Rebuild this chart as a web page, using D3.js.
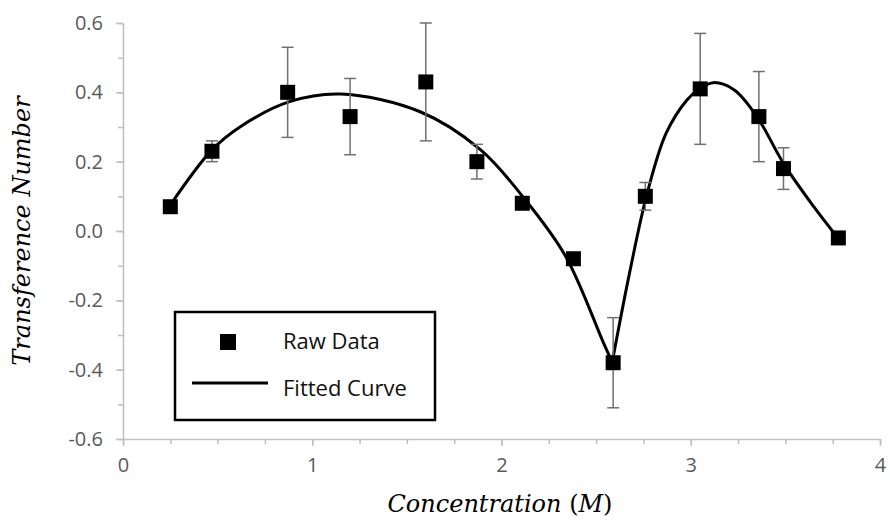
<!DOCTYPE html>
<html>
<head>
    <title>Transference Number</title>
    <script src="https://cdn.jsdelivr.net/npm/d3@7"></script>
    <style>
        body { margin: 0; background: #fff; }
    </style>
</head>
<body>
<script>
    // raw data
    var concX = [0.25, 0.47, 0.87, 1.20, 1.60, 1.87, 2.11, 2.38, 2.59, 2.76, 3.05, 3.36, 3.49, 3.78];
    var transY = [0.07, 0.23, 0.40, 0.33, 0.43, 0.20, 0.08, -0.08, -0.38, 0.10, 0.41, 0.33, 0.18, -0.02];
    var errY = [0, 0.03, 0.13, 0.11, 0.17, 0.05, 0, 0, 0.13, 0.04, 0.16, 0.13, 0.06, 0];

    // fitted curve, two pieces meeting at the cusp
    var fitLeftX = [0.25, 0.47, 0.62, 0.88, 1.15, 1.57, 1.89, 2.12, 2.34, 2.54, 2.585];
    var fitLeftY = [0.075, 0.234, 0.301, 0.373, 0.395, 0.344, 0.234, 0.094, -0.074, -0.324, -0.378];
    var fitRightX = [2.585, 2.68, 2.77, 2.87, 2.98, 3.05, 3.12, 3.23, 3.35, 3.49, 3.65, 3.77];
    var fitRightY = [-0.378, -0.112, 0.109, 0.282, 0.378, 0.412, 0.428, 0.407, 0.33, 0.195, 0.07, -0.015];

    var xTicks = [0, 1, 2, 3, 4];
    var xTickLabels = ["0", "1", "2", "3", "4"];
    var yTicks = [-0.6, -0.4, -0.2, 0.0, 0.2, 0.4, 0.6];
    var yTickLabels = ["-0.6", "-0.4", "-0.2", "0.0", "0.2", "0.4", "0.6"];
    var xMinor = d3.range(0, 4.001, 0.25);
    var yMinor = d3.range(-0.6, 0.601, 0.1);

    var width = 890;
    var height = 527;

    var svg = d3.select("body")
        .append("svg")
        .attr("width", width)
        .attr("height", height)
        .style("font-family", "'Open Sans', sans-serif");

    var x = d3.scaleLinear().domain([0, 4]).range([123, 880]);
    var y = d3.scaleLinear().domain([-0.6, 0.6]).range([439, 23]);

    // minor ticks first
    svg.append("g")
        .attr("transform", "translate(0," + y(-0.6) + ")")
        .call(d3.axisBottom(x).tickValues(xMinor).tickSize(5).tickFormat(""))
        .call(function(g) { g.select(".domain").remove(); })
        .selectAll("line").attr("stroke", "#bfbfbf").attr("stroke-width", 1.5);

    svg.append("g")
        .attr("transform", "translate(" + x(0) + ",0)")
        .call(d3.axisLeft(y).tickValues(yMinor).tickSize(5).tickFormat(""))
        .call(function(g) { g.select(".domain").remove(); })
        .selectAll("line").attr("stroke", "#bfbfbf").attr("stroke-width", 1.5);

    // major axes
    var xAxis = svg.append("g")
        .attr("transform", "translate(0," + y(-0.6) + ")")
        .call(d3.axisBottom(x).tickValues(xTicks).tickSize(7).tickSizeOuter(0).tickPadding(12)
            .tickFormat(function(d, i) { return xTickLabels[i]; }));

    var yAxis = svg.append("g")
        .attr("transform", "translate(" + x(0) + ",0)")
        .call(d3.axisLeft(y).tickValues(yTicks).tickSize(7).tickSizeOuter(0).tickPadding(13)
            .tickFormat(function(d, i) { return yTickLabels[i]; }));

    [xAxis, yAxis].forEach(function(g) {
        g.select(".domain").attr("stroke", "#bfbfbf").attr("stroke-width", 1.5);
        g.selectAll(".tick line").attr("stroke", "#bfbfbf").attr("stroke-width", 1.5);
        g.selectAll(".tick text")
            .attr("fill", "#595959")
            .style("font-family", "'Open Sans', sans-serif")
            .style("font-size", "20px");
    });

    // fitted curve
    var line = d3.line()
        .x(function(d) { return x(d[0]); })
        .y(function(d) { return y(d[1]); })
        .curve(d3.curveCatmullRom.alpha(0.5));

    [[fitLeftX, fitLeftY], [fitRightX, fitRightY]].forEach(function(s) {
        svg.append("path")
            .datum(d3.zip(s[0], s[1]))
            .attr("fill", "none")
            .attr("stroke", "#000")
            .attr("stroke-width", 3)
            .attr("d", line);
    });

    // error bars
    var pts = concX.map(function(c, i) { return { x: c, y: transY[i], e: errY[i] }; });
    var bars = svg.append("g")
        .attr("stroke", "#707070")
        .attr("stroke-width", 1.5)
        .selectAll("g")
        .data(pts.filter(function(d) { return d.e > 0; }))
        .enter()
        .append("g");
    bars.append("line")
        .attr("x1", function(d) { return x(d.x); })
        .attr("x2", function(d) { return x(d.x); })
        .attr("y1", function(d) { return y(d.y + d.e); })
        .attr("y2", function(d) { return y(d.y - d.e); });
    bars.append("line")
        .attr("x1", function(d) { return x(d.x) - 6; })
        .attr("x2", function(d) { return x(d.x) + 6; })
        .attr("y1", function(d) { return y(d.y + d.e); })
        .attr("y2", function(d) { return y(d.y + d.e); });
    bars.append("line")
        .attr("x1", function(d) { return x(d.x) - 6; })
        .attr("x2", function(d) { return x(d.x) + 6; })
        .attr("y1", function(d) { return y(d.y - d.e); })
        .attr("y2", function(d) { return y(d.y - d.e); });

    // markers
    var ms = 15;
    svg.append("g")
        .selectAll("rect")
        .data(pts)
        .enter()
        .append("rect")
        .attr("x", function(d) { return x(d.x) - ms / 2; })
        .attr("y", function(d) { return y(d.y) - ms / 2; })
        .attr("width", ms)
        .attr("height", ms)
        .attr("fill", "#000");

    // legend
    var leg = svg.append("g");
    leg.append("rect")
        .attr("x", 175).attr("y", 312)
        .attr("width", 260).attr("height", 108)
        .attr("fill", "#fff")
        .attr("stroke", "#000")
        .attr("stroke-width", 2.5);
    leg.append("rect")
        .attr("x", 228 - 8).attr("y", 342 - 8)
        .attr("width", 16).attr("height", 16)
        .attr("fill", "#000");
    leg.append("line")
        .attr("x1", 192).attr("x2", 268)
        .attr("y1", 383).attr("y2", 383)
        .attr("stroke", "#000").attr("stroke-width", 3);
    leg.append("text")
        .attr("x", 283).attr("y", 349)
        .style("font-size", "22px")
        .attr("fill", "#111")
        .text("Raw Data");
    leg.append("text")
        .attr("x", 283).attr("y", 396)
        .style("font-size", "22px")
        .attr("fill", "#111")
        .text("Fitted Curve");

    // axis titles
    var serif = "'DejaVu Serif', serif";
    svg.append("text")
        .attr("transform", "translate(30,231) rotate(-90)")
        .attr("text-anchor", "middle")
        .style("font-family", serif)
        .style("font-style", "italic")
        .style("font-size", "24px")
        .attr("fill", "#000")
        .text("Transference Number");

    var xt = svg.append("text")
        .attr("x", 500).attr("y", 512)
        .attr("text-anchor", "middle")
        .style("font-family", serif)
        .style("font-size", "24px")
        .attr("fill", "#000");
    xt.append("tspan").style("font-style", "italic").text("Concentration ");
    xt.append("tspan").text("(");
    xt.append("tspan").style("font-style", "italic").text("M");
    xt.append("tspan").text(")");
</script>
</body>
</html>
